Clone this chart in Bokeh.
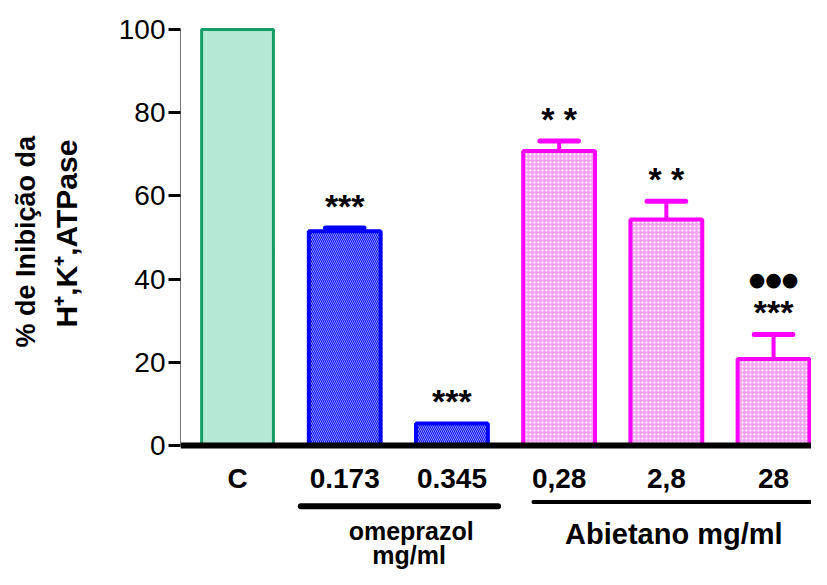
from bokeh.plotting import figure
from bokeh.models import ColumnDataSource, FixedTicker, Range1d, Title
from bokeh.core.properties import value
from bokeh.embed import file_html
from bokeh.resources import INLINE

# ---- data ----
categories = ["C", "0.173", "0.345", "0,28", "2,8", "28"]
inhibition = [100.0, 51.5, 5.3, 70.8, 54.3, 20.8]
sem = [0.0, 0.8, 0.0, 2.4, 4.4, 5.9]
significance = ["", "***", "***", "* *", "* *", "***"]
vs_omeprazole = ["", "", "", "", "", "●●●"]
group_names = ["omeprazol", "Abietano mg/ml"]
group_members = [[1, 2], [3, 4, 5]]
y_ticks = [0, 20, 40, 60, 80, 100]
y_label_lines = ["% de Inibição da", "H⁺,K⁺,ATPase"]

# ---- styles ----
fills = ["#b5e8d5", "#0000ff", "#0000ff", "#f7a6f7", "#f7a6f7", "#f7a6f7"]
lines = ["#169e68", "#0000ff", "#0000ff", "#ff00ff", "#ff00ff", "#ff00ff"]
line_ws = [3, 4, 4, 4, 4, 4]
hatches = ["blank", "\\", "\\", "dot", "dot", "dot"]
hatch_ws = [1, 0.6, 0.6, 1, 1, 1]

xs = list(range(len(categories)))
FONT = value("Liberation Sans")

p = figure(width=811, height=569,
           x_range=Range1d(-0.532, 5.354), y_range=Range1d(-29.8, 106.97),
           output_backend="svg", toolbar_location=None,
           min_border_left=180, min_border_right=0,
           min_border_top=0, min_border_bottom=0)
p.outline_line_color = None
p.grid.visible = False

caps = [t + s for t, s in zip(inhibition, sem)]
src = ColumnDataSource(dict(x=xs, top=inhibition, cap=caps,
                            fill=fills, line=lines, lw=line_ws, hatch=hatches, hw=hatch_ws,
                            sig=significance, vs=vs_omeprazole))

p.vbar(x="x", top="top", bottom=0, width=0.67, source=src,
       fill_color="fill", line_color="line", line_width="lw",
       hatch_pattern="hatch", hatch_color="white", hatch_scale=4, hatch_weight="hw")

# error bars (upper only)
has = [i for i, s in enumerate(sem) if s > 0]
eb = ColumnDataSource(dict(x=[xs[i] for i in has], top=[inhibition[i] for i in has],
                           cap=[caps[i] for i in has], line=[lines[i] for i in has],
                           x0=[xs[i] - 0.18 for i in has], x1=[xs[i] + 0.18 for i in has]))
p.segment(x0="x", y0="top", x1="x", y1="cap", source=eb, line_color="line", line_width=4)
p.segment(x0="x0", y0="cap", x1="x1", y1="cap", source=eb, line_color="line",
          line_width=5, line_cap="round")

# significance marks
p.text(x="x", y="cap", text="sig", source=src, y_offset=-22,
       text_align="center", text_baseline="alphabetic",
       text_font=FONT, text_font_style="bold", text_font_size="34px", text_color="black")
p.text(x="x", y="cap", text="vs", source=src, y_offset=-55,
       text_align="center", text_baseline="alphabetic",
       text_font=value("DejaVu Sans"), text_font_size="19px", text_color="black")

# axes
p.xaxis.fixed_location = 0
p.xaxis.ticker = FixedTicker(ticks=xs)
p.xaxis.major_label_overrides = {i: c for i, c in enumerate(categories)}
p.xaxis.major_label_text_font = "Liberation Sans"
p.xaxis.major_label_text_font_style = "bold"
p.xaxis.major_label_text_font_size = "28px"
p.xaxis.major_label_text_color = "black"
p.xaxis.major_label_standoff = 11
p.xaxis.axis_line_width = 6
p.xaxis.axis_line_color = "black"
p.xaxis.major_tick_line_color = None
p.xaxis.minor_tick_line_color = None

p.yaxis.bounds = (0, 100)
p.yaxis.ticker = FixedTicker(ticks=y_ticks)
p.yaxis.major_label_text_font = "Liberation Sans"
p.yaxis.major_label_text_font_size = "28px"
p.yaxis.major_label_text_color = "black"
p.yaxis.major_label_standoff = 3
p.yaxis.major_tick_out = 12
p.yaxis.major_tick_in = 0
p.yaxis.major_tick_line_width = 3
p.yaxis.major_tick_line_color = "black"
p.yaxis.minor_tick_line_color = None
p.yaxis.axis_line_color = "#777777"
p.yaxis.axis_line_width = 1

# y axis title: two rotated lines, positioned along the 0-100 span
# (inner line added first; later panels are placed further out)
for txt, fs, off, so in [(y_label_lines[1], "30px", 242, 66), (y_label_lines[0], "27px", 222, -53)]:
    p.add_layout(Title(text=txt, align="left", offset=off, standoff=so,
                       text_font="Liberation Sans", text_font_style="bold",
                       text_font_size=fs, text_color="black"), "left")

# group brackets and labels
br = ColumnDataSource(dict(x0=[min(group_members[0]) - 0.41, min(group_members[1]) - 0.24],
                           x1=[max(group_members[0]) + 0.43, max(group_members[1]) + 0.6],
                           y=[-14.6, -13.6], w=[6, 4]))
p.segment(x0="x0", y0="y", x1="x1", y1="y", source=br, line_color="black",
          line_width="w", line_cap="round")
gl = ColumnDataSource(dict(x=[sum(g) / len(g) + d for g, d in zip(group_members, [0.12, 0.07])],
                           y=[-20.6, -21.3], text=group_names,
                           fs=["25px", "29px"]))
p.text(x="x", y="y", text="text", source=gl, text_align="center", text_baseline="middle",
       text_font=FONT, text_font_style="bold", text_font_size="fs", text_color="black")
p.text(x=[sum(group_members[0]) / 2 + 0.1], y=[-26.4], text=["mg/ml"],
       text_align="center", text_baseline="middle",
       text_font=FONT, text_font_style="bold", text_font_size="25px", text_color="black")

open("out.html", "w").write(file_html(p, INLINE))
